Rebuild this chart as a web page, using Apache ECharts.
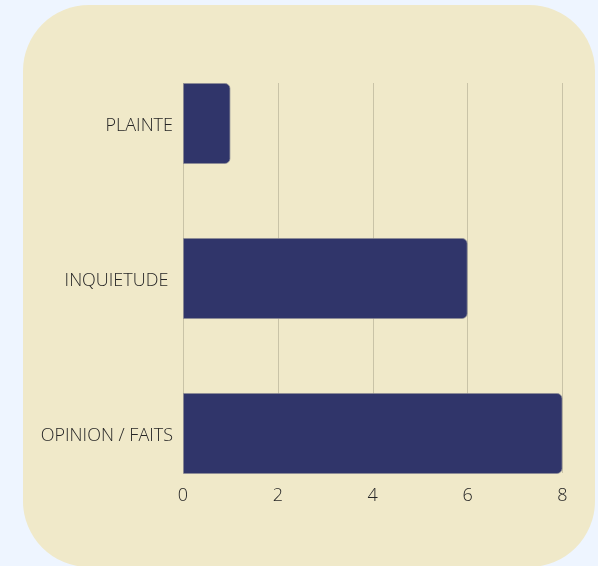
<!DOCTYPE html>
<html>
<head>
<meta charset="utf-8">
<script src="https://cdn.jsdelivr.net/npm/echarts@6/dist/echarts.min.js"></script>
<style>
  html, body { margin: 0; padding: 0; background: #eef5ff; }
  #card { position: absolute; left: 23px; top: 5px; width: 572px; height: 562px; background: #f0e9c9; border-radius: 66px; }
  #chart { position: absolute; left: 0; top: 0; width: 598px; height: 566px; }
</style>
</head>
<body>
<div id="card"></div>
<div id="chart"></div>
<script>
const categories = ['PLAINTE', 'INQUIETUDE ', 'OPINION / FAITS'];
const values = [1, 6, 8];
const xTicks = { min: 0, max: 8, interval: 2 };

const labelFont = { fontFamily: 'Open Sans', fontSize: 18, fontWeight: 300, color: '#262626' };

const chart = echarts.init(document.getElementById('chart'), null, { renderer: 'canvas' });
chart.setOption({
  backgroundColor: 'transparent',
  animation: false,
  grid: [
    { left: 183, right: 35.5, top: 83, bottom: 93 },
    { left: 183, right: 35.5, top: 46, bottom: 55 },
    { left: 183, right: 35.5, top: 48, bottom: 53 }
  ],
  xAxis: [
    {
      gridIndex: 0, type: 'value', min: xTicks.min, max: xTicks.max, interval: xTicks.interval,
      axisLine: { show: false }, axisTick: { show: false },
      axisLabel: Object.assign({ margin: 14 }, labelFont),
      splitLine: { show: true, lineStyle: { color: '#c9c3a7', width: 1 } }
    },
    { gridIndex: 1, type: 'value', min: xTicks.min, max: xTicks.max, show: false },
    { gridIndex: 2, type: 'value', min: xTicks.min, max: xTicks.max, show: false }
  ],
  yAxis: [
    { gridIndex: 0, type: 'value', show: false, splitLine: { show: false } },
    {
      gridIndex: 1, type: 'category', data: categories, inverse: true, show: false
    },
    {
      gridIndex: 2, type: 'category', data: categories, inverse: true,
      axisLine: { show: false }, axisTick: { show: false },
      axisLabel: Object.assign({ margin: 10 }, labelFont),
      splitLine: { show: false }
    }
  ],
  series: [
    {
      type: 'bar', xAxisIndex: 1, yAxisIndex: 1, data: values, barWidth: 81,
      itemStyle: { color: '#30356a', borderColor: 'rgba(140,140,150,0.7)', borderWidth: 1, borderRadius: [0, 5, 5, 0] }
    }
  ]
});
</script>
</body>
</html>
